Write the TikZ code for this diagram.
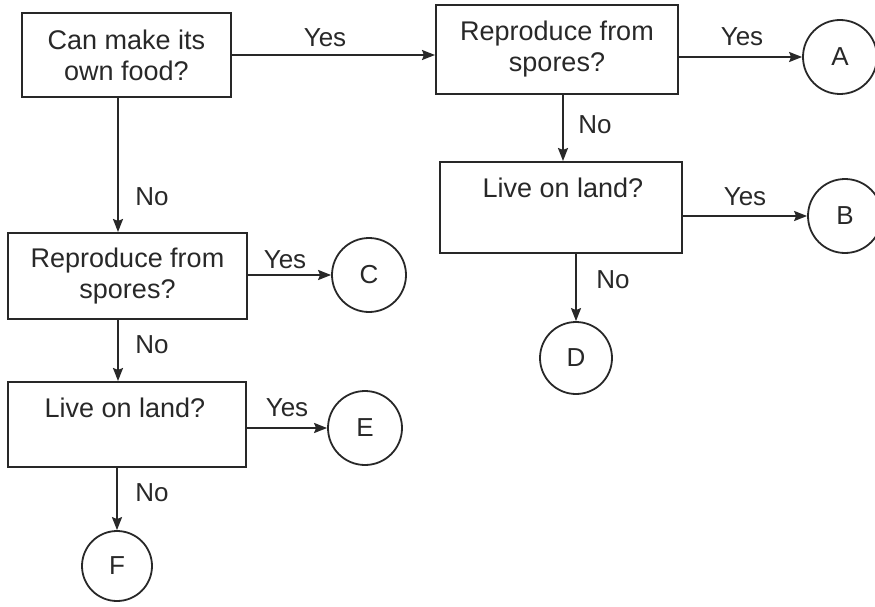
\documentclass[tikz,border=0pt]{standalone}
\usepackage{fontspec}
\setmainfont{Liberation Sans}
\usetikzlibrary{arrows.meta}
\definecolor{ink}{RGB}{40,40,40}
\tikzset{
  qbox/.style={draw=ink, line width=2pt, rectangle, inner sep=0pt, align=center,
    font=\fontsize{27}{31}\selectfont, text=ink},
  endc/.style={draw=ink, line width=1.8pt, circle, inner sep=0pt, minimum size=74pt,
    font=\fontsize{26}{29}\selectfont, text=ink},
  lbl/.style={font=\fontsize{26}{30}\selectfont, text=ink, inner sep=0pt},
  btxt/.style={font=\fontsize{27}{31}\selectfont, text=ink, inner sep=0pt},
  arr/.style={draw=ink, line width=2pt, -{Stealth[length=13pt,width=10pt,inset=2pt]}}
}
\begin{document}
\begin{tikzpicture}[x=1pt,y=-1pt]
\useasboundingbox (0,0) rectangle (875,607);
% boxes
\node[qbox, minimum width=209pt, minimum height=84pt] (b1) at (126.5,55) {Can make its\\own food?};
\node[qbox, minimum width=242pt, minimum height=89pt] (b2) at (557,49.5) {Reproduce from\\spores?};
\node[qbox, minimum width=242pt, minimum height=91pt] (b3) at (561,207.5) {};
\node[btxt] (t3) at (563,188) {Live on land?};
\node[qbox, minimum width=239pt, minimum height=86pt] (b4) at (127.5,276) {Reproduce from\\spores?};
\node[qbox, minimum width=238pt, minimum height=85pt] (b5) at (127,424.5) {};
\node[btxt] (t5) at (125,408) {Live on land?};
% circles
\node[endc] (cA) at (840,57) {A};
\node[endc] (cB) at (845,216) {B};
\node[endc] (cC) at (369,275) {C};
\node[endc, minimum size=72pt] (cD) at (576,358) {D};
\node[endc] (cE) at (365,428) {E};
\node[endc, minimum size=70pt] (cF) at (117,566) {F};
% connectors
\draw[arr] (b1.east |- 0,55) -- (b2.west |- 0,55);
\draw[arr] (b2.east |- cA) -- (cA.west);
\draw[arr] (b3.east |- cB) -- (cB.west);
\draw[arr] (b4.east |- cC) -- (cC.west);
\draw[arr] (b5.east |- cE) -- (cE.west);
\draw[arr] ([xshift=-8.5pt]b1.south) -- ([xshift=-8.5pt]b1.south |- b4.north);
\draw[arr] ([xshift=6pt]b2.south) -- ([xshift=6pt]b2.south |- b3.north);
\draw[arr] (b3.south -| cD) -- (cD.north);
\draw[arr] ([xshift=-9.5pt]b4.south) -- ([xshift=-9.5pt]b4.south |- b5.north);
\draw[arr] (b5.south -| cF) -- (cF.north);
% labels
\node[lbl] (y1) at (325,38) {Yes};
\node[lbl] (y2) at (742,37) {Yes};
\node[lbl] (y3) at (745,197) {Yes};
\node[lbl] (y4) at (285,260) {Yes};
\node[lbl] (y5) at (287,408) {Yes};
\node[lbl] (n1) at (152,197) {No};
\node[lbl] (n2) at (595,125) {No};
\node[lbl] (n3) at (613,280) {No};
\node[lbl] (n4) at (152,345) {No};
\node[lbl] (n5) at (152,493) {No};
\end{tikzpicture}
\end{document}
